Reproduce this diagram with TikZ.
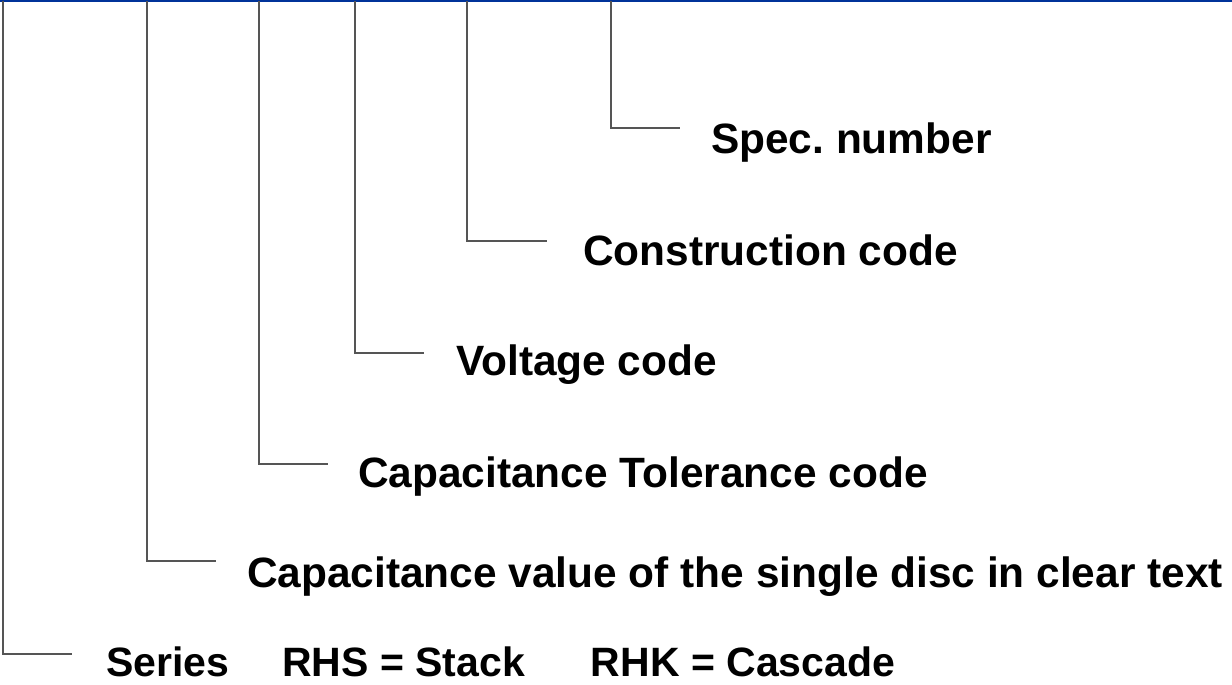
\documentclass[tikz,border=0pt]{standalone}
\usepackage{fontspec}
\setmainfont{Liberation Sans}
\usetikzlibrary{positioning,calc}
\definecolor{rule}{HTML}{003399}
\definecolor{lead}{HTML}{555555}
\tikzset{
  lbl/.style={anchor=base west,inner sep=0pt,font=\bfseries\fontsize{42.4}{50}\selectfont\frenchspacing,text=black},
  ln/.style={draw=lead,line width=1.5pt},
}
\begin{document}
\begin{tikzpicture}[x=1pt,y=-1pt]
  \useasboundingbox (0,0) rectangle (1232,685);
  \draw[draw=rule,line width=2pt] (0,1) coordinate (ra) -- (1232,1) coordinate (rb);
  % labels, top to bottom
  \node[lbl] (spec) at (711,153) {Spec. number};
  \node[lbl] (cons) at (583,265) {Construction code};
  \node[lbl] (volt) at (456,375) {Voltage code};
  \node[lbl] (tol)  at (358,487) {Capacitance Tolerance code};
  \node[lbl] (cap)  at (247,587) {Capacitance value of the single disc in clear text};
  \node[lbl,font=\bfseries\fontsize{41}{48}\selectfont] (ser) at (106,676)
    {Series\hspace{53pt}RHS = Stack\hspace{66pt}RHK = Cascade};
  % leader lines
  \foreach \t/\x/\y/\e in {spec/611/128/680,cons/467/241/547,volt/355/353/424,tol/259/464/328,cap/147/561/216,ser/3/654/72} {
    \coordinate (\t-top) at (\x,1);
    \coordinate (\t-end) at (\e,\y);
    \draw[ln] (\t-top) |- (\t-end);
  }
\end{tikzpicture}
\end{document}
